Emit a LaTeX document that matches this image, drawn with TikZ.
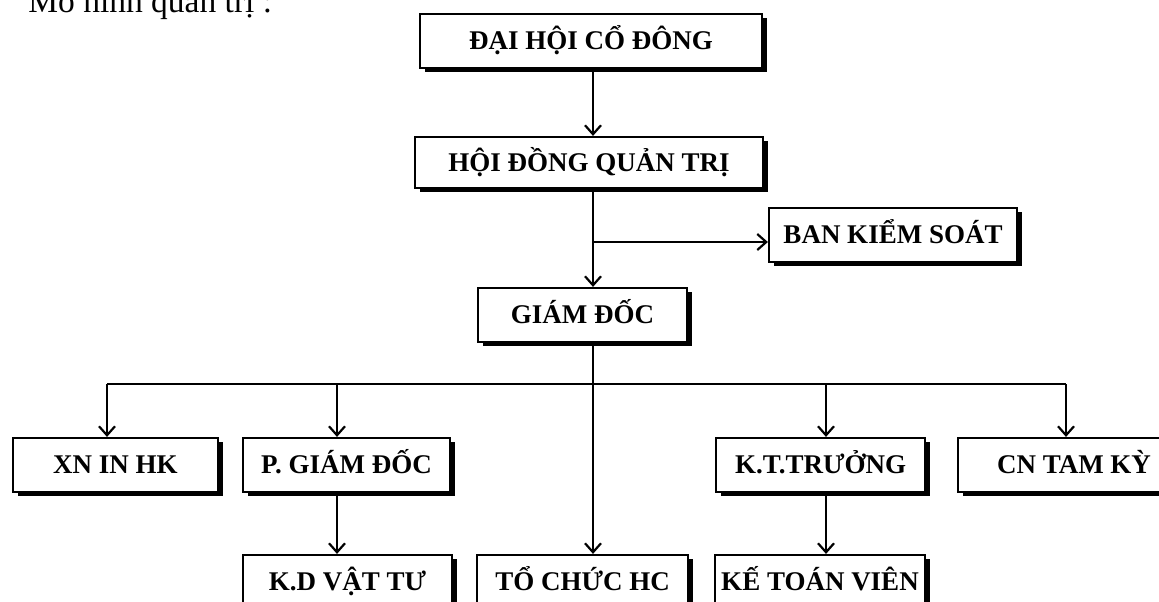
\documentclass[tikz,border=0pt]{standalone}
\usepackage{fontspec}
\setmainfont{Liberation Serif}
\usetikzlibrary{arrows.meta,shadows}

\tikzset{
  caja/.style={draw, line width=1.1pt, fill=white, inner sep=0pt,
    minimum height=27pt, text height=8.8pt, text depth=0pt,
    font=\bfseries\fontsize{13.5}{15}\selectfont,
    drop shadow={opacity=1, fill=black, shadow xshift=2.5pt, shadow yshift=-2pt}},
  linea/.style={line width=1.1pt},
  flecha/.style={linea, -{Straight Barb[length=4.5pt,width=8pt,line width=1.1pt]}}
}

\begin{document}
\begin{tikzpicture}[x=0.5pt, y=-0.5pt]
\useasboundingbox (0,0) rectangle (1159,601);

% Titulo, cortado arriba
\node[anchor=base west, inner sep=0pt, font=\fontsize{16.75}{20}\selectfont] (titulo) at (28,12) {Mô hình quản trị :};

% Cajas de arriba
\node[caja, minimum width=171pt] (dhcd) at (591,41) {ĐẠI HỘI CỔ ĐÔNG};
\node[caja, minimum width=174pt, minimum height=25.5pt] (hdqt) at (589,162.5) {HỘI ĐỒNG QUẢN TRỊ};
\node[caja, minimum width=124pt] (bks) at (893,235) {BAN KIỂM SOÁT};
\node[caja, minimum width=104.5pt] (gd) at (582.5,315) {GIÁM ĐỐC};

% Primera fila
\node[caja, minimum width=102.5pt] (xn) at (115.5,465) {XN IN HK};
\node[caja, minimum width=103.5pt] (pgd) at (346.5,465) {P. GIÁM ĐỐC};
\node[caja, minimum width=104.5pt] (ktt) at (820.5,465) {K.T.TRƯỞNG};
\node[caja, minimum width=116pt] (cntk) at (1074,465) {CN TAM KỲ};

% Segunda fila (cortada abajo)
\node[caja, minimum width=104.5pt] (kd) at (347.5,582) {K.D VẬT TƯ};
\node[caja, minimum width=105.5pt] (tchc) at (582.5,582) {TỔ CHỨC HC};
\node[caja, minimum width=105pt] (ktv) at (820,582) {KẾ TOÁN VIÊN};

% Eje central y barra
\coordinate (eje) at (593,0);
\coordinate (rama) at (593,242);
\coordinate (b1) at (107,384);
\coordinate (b2) at (337,384);
\coordinate (b3) at (826,384);
\coordinate (b4) at (1066,384);

\draw[flecha] (dhcd.south -| eje) -- (hdqt.north -| eje);
\draw[flecha] (hdqt.south -| eje) -- (gd.north -| eje);
\draw[flecha] (rama) -- (rama -| bks.west);
\draw[flecha] (gd.south -| eje) -- (tchc.north -| eje);

\draw[linea] (b1) -- (b4);
\draw[flecha] (b1) -- (b1 |- xn.north);
\draw[flecha] (b2) -- (b2 |- pgd.north);
\draw[flecha] (b3) -- (b3 |- ktt.north);
\draw[flecha] (b4) -- (b4 |- cntk.north);

\draw[flecha] (pgd.south -| b2) -- (kd.north -| b2);
\draw[flecha] (ktt.south -| b3) -- (ktv.north -| b3);
\end{tikzpicture}
\end{document}
